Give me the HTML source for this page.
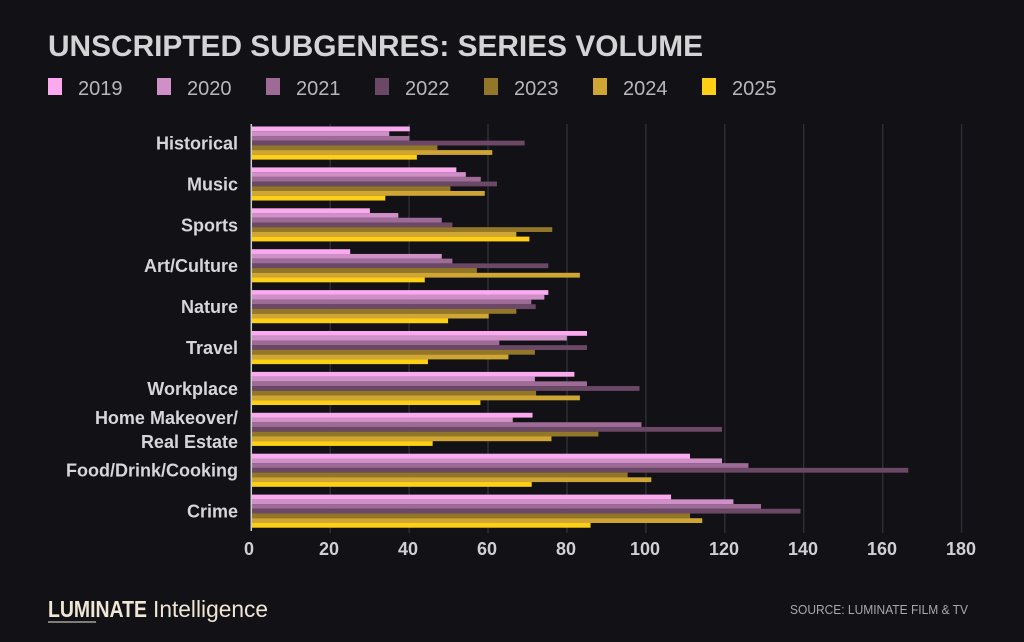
<!DOCTYPE html>
<html><head><meta charset="utf-8"><style>
html,body{margin:0;padding:0;background:#121116;}
svg{display:block;font-family:"Liberation Sans",sans-serif;}
</style></head><body>
<svg width="1024" height="642" viewBox="0 0 1024 642" xmlns="http://www.w3.org/2000/svg">
<rect width="1024" height="642" fill="#121116"/>
<text x="48" y="56" font-size="30" font-weight="bold" fill="#d4d4d6" textLength="655" lengthAdjust="spacingAndGlyphs">UNSCRIPTED SUBGENRES: SERIES VOLUME</text>
<g font-size="20" fill="#b8b8bc">
<rect x="48" y="78" width="14" height="17" fill="#fbaaf0"/><text x="78" y="95">2019</text>
<rect x="157" y="78" width="14" height="17" fill="#cf8fc7"/><text x="187" y="95">2020</text>
<rect x="266" y="78" width="14" height="17" fill="#9d6b96"/><text x="296" y="95">2021</text>
<rect x="375" y="78" width="14" height="17" fill="#6b4866"/><text x="405" y="95">2022</text>
<rect x="484" y="78" width="14" height="17" fill="#927728"/><text x="514" y="95">2023</text>
<rect x="593" y="78" width="14" height="17" fill="#cfa534"/><text x="623" y="95">2024</text>
<rect x="702" y="78" width="14" height="17" fill="#fdcf17"/><text x="732" y="95">2025</text>
</g>
<g stroke="#2e2d33" stroke-width="1.5">
<line x1="330.2" y1="124" x2="330.2" y2="533"/><line x1="409.1" y1="124" x2="409.1" y2="533"/>
<line x1="488" y1="124" x2="488" y2="533"/><line x1="567" y1="124" x2="567" y2="533"/>
<line x1="645.9" y1="124" x2="645.9" y2="533"/><line x1="724.8" y1="124" x2="724.8" y2="533"/>
<line x1="803.7" y1="124" x2="803.7" y2="533"/><line x1="882.7" y1="124" x2="882.7" y2="533"/>
<line x1="961.6" y1="124" x2="961.6" y2="533"/>
</g>
<g id="bars"></g>
<line x1="251.3" y1="124" x2="251.3" y2="531" stroke="#d0d0d0" stroke-width="1.5"/>
<g font-size="18" font-weight="bold" fill="#d6d6d8" text-anchor="end" id="labels"></g>
<g font-size="18" font-weight="bold" fill="#d0d0d2" text-anchor="middle">
<text x="249" y="555">0</text><text x="329" y="555">20</text><text x="408" y="555">40</text><text x="487" y="555">60</text><text x="566" y="555">80</text><text x="645" y="555">100</text><text x="724" y="555">120</text><text x="803" y="555">140</text><text x="882" y="555">160</text><text x="961" y="555">180</text>
</g>
<line x1="48" y1="622" x2="96" y2="622" stroke="#efe6d6" stroke-width="1"/>
<text x="48" y="617" font-size="23" font-weight="bold" fill="#efe6d6" textLength="99" lengthAdjust="spacingAndGlyphs">LUMINATE</text>
<text x="153" y="617" font-size="23" fill="#efe6d6" textLength="115" lengthAdjust="spacingAndGlyphs">Intelligence</text>
<text x="968" y="614" font-size="13" fill="#a8a8ac" text-anchor="end" textLength="178" lengthAdjust="spacingAndGlyphs">SOURCE: LUMINATE FILM &amp; TV</text>
<script>
(function(){
var cats=["Historical","Music","Sports","Art/Culture","Nature","Travel","Workplace","Home Makeover/|Real Estate","Food/Drink/Cooking","Crime"];
var d=[[40.1,34.9,40,69.2,47.1,61,41.9],[51.9,54.3,58.1,62.2,50.4,59.1,33.9],[30,37.2,48.2,50.9,76.2,67.1,70.4],[25,48.2,50.9,75.2,57.1,83.2,43.9],[75.2,74.2,70.9,72,67.1,60.1,49.8],[85,79.9,62.8,85,71.8,65.1,44.7],[81.8,71.8,85,98.3,72.1,83.2,58],[71.2,66.2,98.8,119.2,87.9,76,45.9],[111.1,119.2,125.9,166.4,95.3,101.3,71],[106.3,122.1,129.1,139.1,111.1,114.2,85.9]];
var col=["#fbaaf0","#cf8fc7","#9d6b96","#6b4866","#927728","#cfa534","#fdcf17"];
var ns="http://www.w3.org/2000/svg",b=document.getElementById("bars"),l=document.getElementById("labels");
for(var i=0;i<10;i++){var gy=126.5+40.9*i;
for(var j=0;j<7;j++){var r=document.createElementNS(ns,"rect");r.setAttribute("x",251.5);r.setAttribute("y",gy+j*4.72);r.setAttribute("width",d[i][j]*3.947);r.setAttribute("height",4.8);r.setAttribute("fill",col[j]);b.appendChild(r);}
var parts=cats[i].split("|");
if(parts.length==1){var t=document.createElementNS(ns,"text");t.setAttribute("x",238);t.setAttribute("y",gy+23);t.textContent=parts[0];l.appendChild(t);}
else{for(var k=0;k<2;k++){var t2=document.createElementNS(ns,"text");t2.setAttribute("x",238);t2.setAttribute("y",gy+11+k*24);t2.textContent=parts[k];l.appendChild(t2);}}
}
})();
</script>
</svg>
</body></html>
